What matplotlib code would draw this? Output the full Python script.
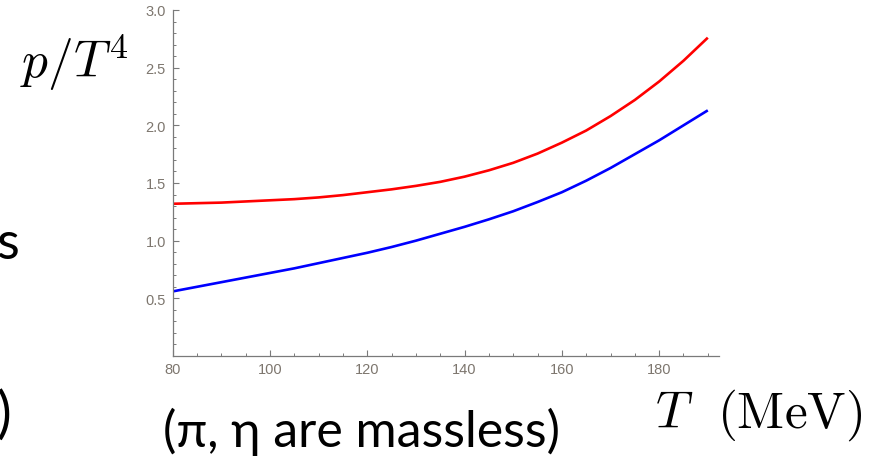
import matplotlib
matplotlib.use("Agg")
import matplotlib.pyplot as plt
from matplotlib.ticker import MultipleLocator

# Data
T_MeV = [80, 85, 90, 95, 100, 105, 110, 115, 120, 125, 130, 135,
         140, 145, 150, 155, 160, 165, 170, 175, 180, 185, 190]
p_red = [1.32, 1.325, 1.33, 1.34, 1.35, 1.36, 1.375, 1.395, 1.42, 1.445, 1.475, 1.51,
         1.555, 1.61, 1.675, 1.755, 1.85, 1.955, 2.08, 2.22, 2.38, 2.56, 2.76]
p_blue = [0.56, 0.60, 0.64, 0.68, 0.72, 0.76, 0.805, 0.85, 0.895, 0.945, 1.0, 1.06,
          1.12, 1.185, 1.255, 1.335, 1.42, 1.52, 1.63, 1.75, 1.87, 2.0, 2.13]
x_ticks = [80, 100, 120, 140, 160, 180]
y_ticks = [0.5, 1.0, 1.5, 2.0, 2.5, 3.0]

plt.rcParams['mathtext.fontset'] = 'cm'

W, H = 880, 460
fig = plt.figure(figsize=(W / 100, H / 100), dpi=100)
fig.patch.set_facecolor('white')

ax_left, ax_right = 172.7, 719.0
ax_top, ax_bottom = 11.0, 357.0
ax = fig.add_axes([ax_left / W, 1 - ax_bottom / H,
                   (ax_right - ax_left) / W, (ax_bottom - ax_top) / H])

ax.plot(T_MeV, p_red, color='#ff0000', lw=1.9, solid_capstyle='butt')
ax.plot(T_MeV, p_blue, color='#0000ff', lw=1.9, solid_capstyle='butt')

ax.set_xlim(80, 192.3)
ax.set_ylim(0, 3.0)
ax.set_xticks(x_ticks)
ax.set_yticks(y_ticks)
ax.xaxis.set_minor_locator(MultipleLocator(5))
ax.yaxis.set_minor_locator(MultipleLocator(0.1))

spine_col = '#7a7a7a'
for s in ['top', 'right']:
    ax.spines[s].set_visible(False)
for s in ['left', 'bottom']:
    ax.spines[s].set_color(spine_col)
    ax.spines[s].set_linewidth(0.9)

ax.tick_params(which='major', direction='in', length=4, width=0.8,
               color=spine_col, labelcolor='#7d766e', labelsize=10.5, pad=4)
ax.tick_params(which='minor', direction='in', length=2.3, width=0.7,
               color=spine_col)
ax.tick_params(axis='y', which='major', pad=5)
for lab in ax.get_xticklabels() + ax.get_yticklabels():
    lab.set_fontfamily('Liberation Sans')

def px(x, y):
    return x / W, 1 - y / H

# Annotations outside the axes
fig.text(*px(20, 78), r'$p/T^4$', fontsize=37, va='baseline', ha='left')
fig.text(*px(655, 428), r'$T$', fontsize=37, va='baseline', ha='left')
fig.text(*px(717, 428), r'$(\mathrm{MeV})$', fontsize=37, va='baseline', ha='left')
fig.text(*px(163, 447), '(π, η are massless)', fontsize=36, family=['Lato', 'DejaVu Sans'],
         va='baseline', ha='left')
fig.text(*px(19, 259), 's', fontsize=38, family=['Lato', 'DejaVu Sans'],
         va='baseline', ha='right')
fig.text(*px(11, 432), ')', fontsize=40, family=['Lato', 'DejaVu Sans'],
         va='baseline', ha='right')

fig.savefig('out.png', dpi=100, facecolor='white')
